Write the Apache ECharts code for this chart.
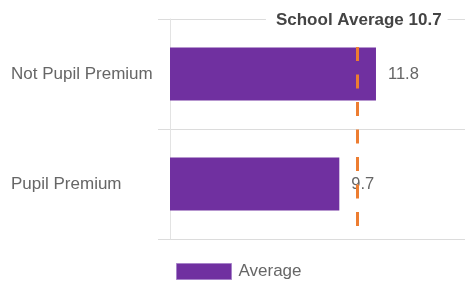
<!DOCTYPE html>
<html>
<head>
<meta charset="utf-8">
<script src="https://cdn.jsdelivr.net/npm/echarts@6/dist/echarts.min.js"></script>
<style>
  html, body { margin: 0; padding: 0; background: #fff; }
  #chart { width: 465px; height: 286px; }
</style>
</head>
<body>
<div id="chart"></div>
<script>
// data
var categories = ['Not Pupil Premium', 'Pupil Premium']
var averages = [11.8, 9.7]
var seriesName = 'Average'
var schoolAverage = 10.7
var schoolAverageLabel = 'School Average 10.7'

var chart = echarts.init(document.getElementById('chart'))

chart.setOption({
  animation: false,
  textStyle: { fontFamily: 'Liberation Sans, Arial, sans-serif' },
  grid: { left: 170, right: 0, top: 19, bottom: 47, containLabel: false },
  legend: {
    data: [seriesName],
    icon: 'rect',
    left: 171,
    top: 258,
    itemWidth: 55,
    itemHeight: 16,
    itemGap: 10,
    textStyle: { color: '#666', fontSize: 17, padding: [0, 0, 0, 2] },
    itemStyle: { borderColor: '#a783c9', borderWidth: 1 }
  },
  xAxis: {
    type: 'value',
    min: 0,
    max: 16.9,
    show: false
  },
  yAxis: {
    type: 'category',
    data: categories,
    inverse: true,
    axisLine: { show: true, lineStyle: { color: '#e3e3e3', width: 1 } },
    axisTick: { show: true, length: 12, lineStyle: { color: '#dcdcdc' } },
    splitLine: { show: true, lineStyle: { color: '#dcdcdc', width: 1 } },
    axisLabel: {
      align: 'left',
      margin: 159,
      color: '#666',
      fontSize: 17
    }
  },
  series: [
    {
      name: seriesName,
      type: 'bar',
      data: averages,
      barWidth: 53,
      itemStyle: { color: '#7030a0' },
      label: {
        show: true,
        position: 'right',
        distance: 12,
        color: '#666',
        fontSize: 16.5
      },
      markLine: {
        silent: true,
        symbol: 'none',
        data: [{ xAxis: schoolAverage }],
        lineStyle: { color: '#ed7d31', width: 3, type: [14, 13.5], dashOffset: 27, opacity: 1 },
        label: {
          show: true,
          position: 'start',
          formatter: schoolAverageLabel,
          color: '#444',
          fontSize: 17,
          fontWeight: 'bold',
          backgroundColor: '#fff',
          padding: [8, 6, 14, 10],
          distance: -23.5
        }
      }
    }
  ]
})
</script>
</body>
</html>
